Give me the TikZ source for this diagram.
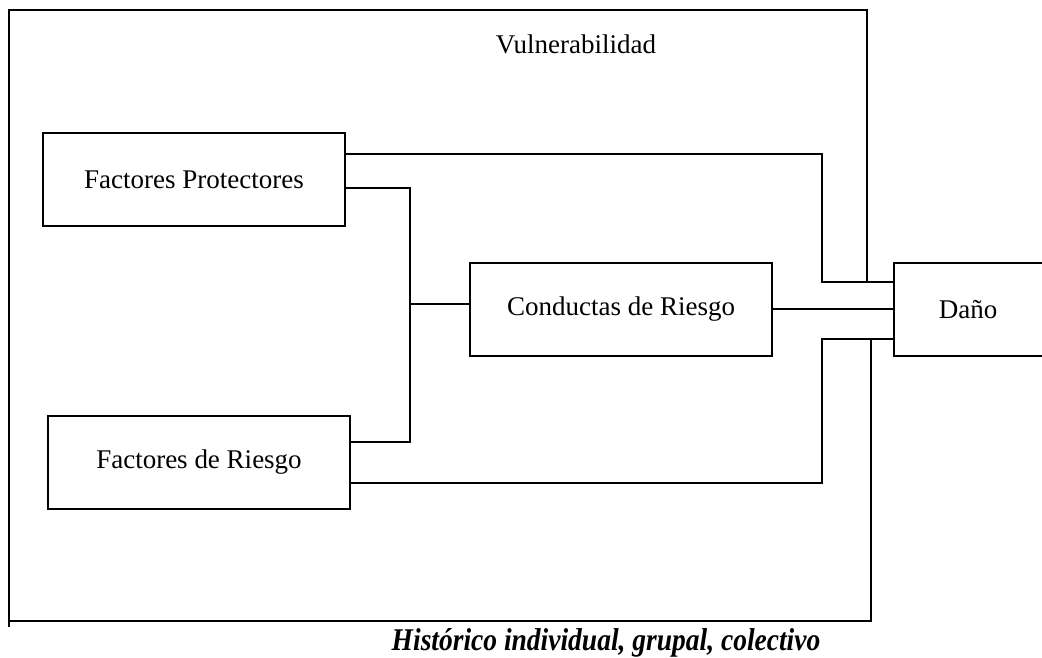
\documentclass[tikz,border=0pt]{standalone}
\usepackage{fontspec}
\setmainfont{Liberation Serif}
\begin{document}
\begin{tikzpicture}[x=1pt,y=-1pt,
  lbl/.style={font=\fontsize{27}{32}\selectfont, inner sep=0pt},
  box/.style={draw, line width=1.5pt, minimum width=302pt, minimum height=93pt, inner sep=0pt, outer sep=0pt, font=\fontsize{27}{32}\selectfont},
  wire/.style={draw, line width=1.5pt}]
\useasboundingbox (0,0) rectangle (1042,658);
\clip (0,0) rectangle (1042,658);
% outer frame
\draw[wire] (9,627) -- (9,10) -- (867,10) -- (867,282);
\draw[wire] (871,339) -- (871,621) -- (9,621);
\node[lbl] (vul) at (576,44) {Vulnerabilidad};
\node[lbl, font=\fontsize{27.5}{32}\selectfont\bfseries\itshape] (hist) at (606,643) {\scalebox{1}[1.15]{Histórico individual, grupal, colectivo}};
% boxes
\node[box] (fp) at (194,179.5) {Factores Protectores};
\node[box] (fr) at (199,462.5) {Factores de Riesgo};
\node[box] (cr) at (621,309.5) {Conductas de Riesgo};
\node[box, minimum width=156pt] (dano) at (972,309.5) {Daño\hspace*{8pt}};
% junction coordinates
\coordinate (jr1) at (822,220);
\coordinate (jr2) at (822,400);
\coordinate (jm) at (410,304);
% connectors
\draw[wire] ([yshift=25.5pt]fp.east) -| (jr1) |- ([yshift=27.5pt]dano.west);
\draw[wire] ([yshift=-8.5pt]fp.east) -| (jm) |- ([yshift=20.5pt]fr.east);
\draw[wire] ([yshift=5.5pt]cr.west) -- (jm);
\draw[wire] ([yshift=0.5pt]cr.east) -- ([yshift=0.5pt]dano.west);
\draw[wire] ([yshift=-29.5pt]dano.west) -| (jr2) |- ([yshift=-20.5pt]fr.east);
\end{tikzpicture}
\end{document}
